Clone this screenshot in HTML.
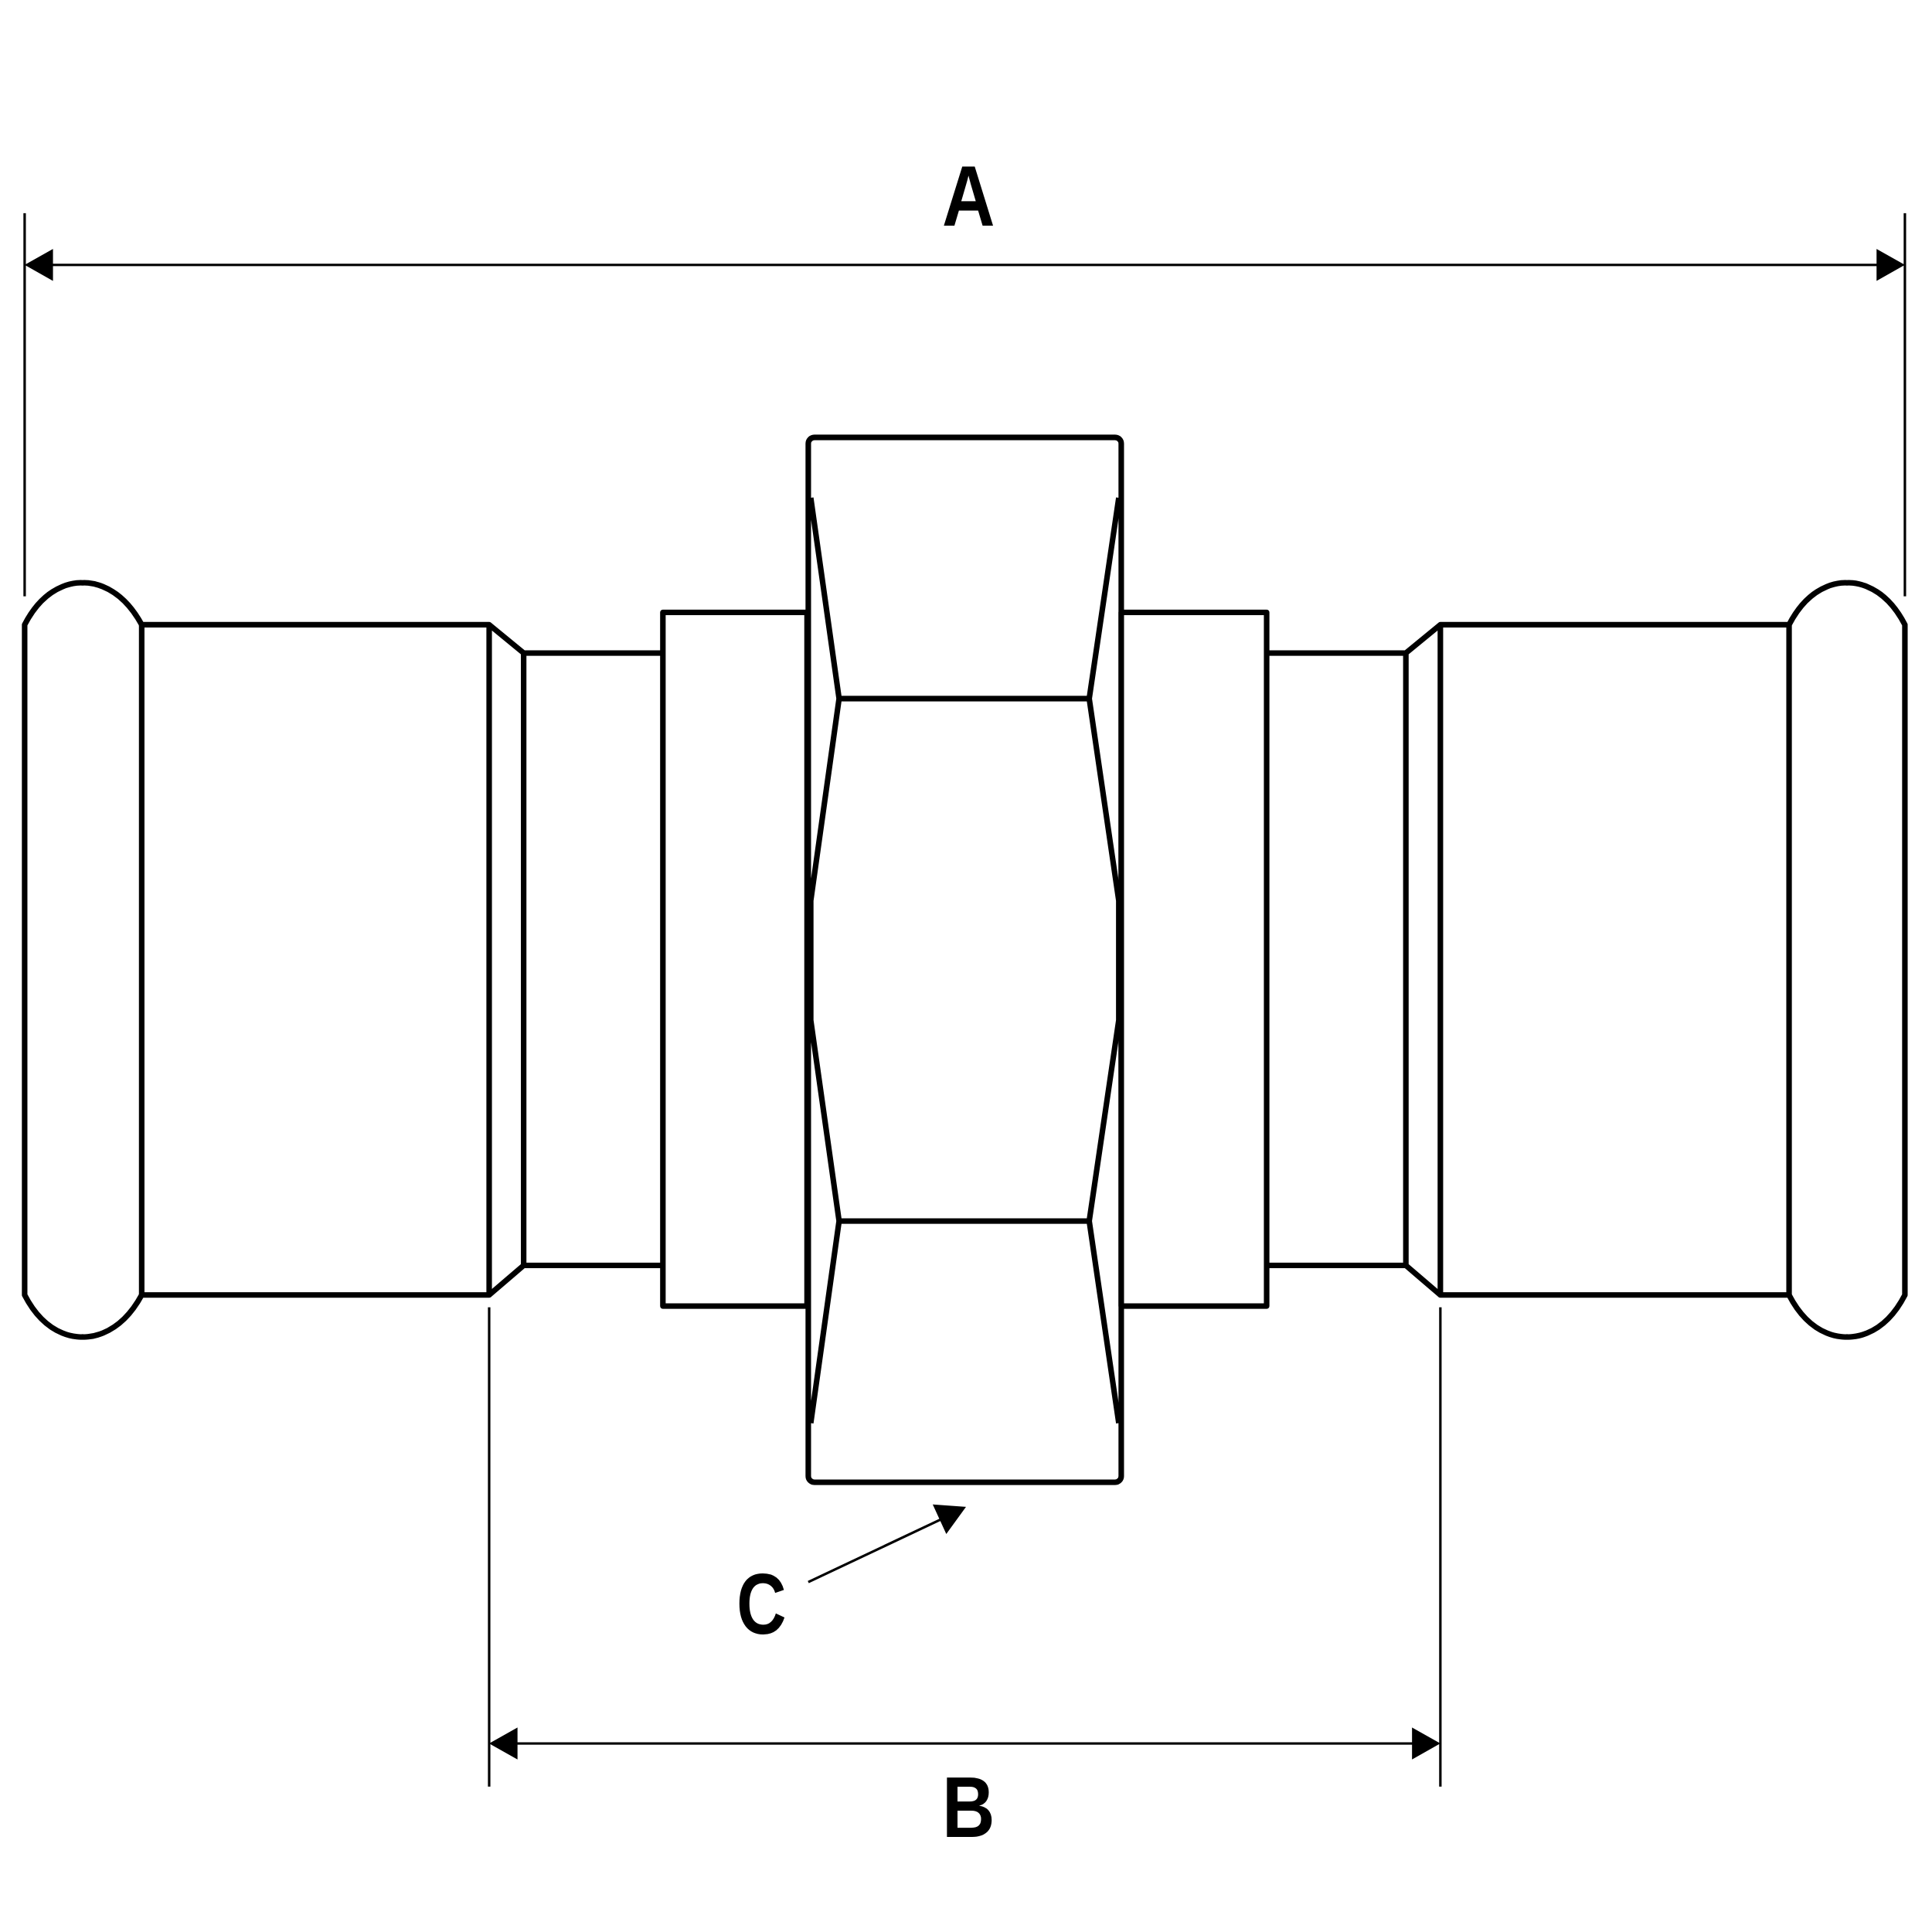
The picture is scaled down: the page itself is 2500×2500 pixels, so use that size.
<!DOCTYPE html>
<html><head><meta charset="utf-8"><style>
html,body{margin:0;padding:0;background:#fff;}
svg{display:block;}
text{font-family:"Liberation Sans",sans-serif;font-weight:bold;fill:#000;}
</style></head><body>
<svg width="2500" height="2500" viewBox="0 0 1568 1568" xmlns="http://www.w3.org/2000/svg">
<g fill="none" stroke="#000" stroke-width="2" stroke-linecap="butt">
  <line x1="20" y1="173" x2="20" y2="484"/>
  <line x1="1546" y1="173" x2="1546" y2="484"/>
  <line x1="30" y1="215" x2="1536" y2="215"/>
  <line x1="397" y1="1061" x2="397" y2="1450"/>
  <line x1="1169" y1="1061" x2="1169" y2="1450"/>
  <line x1="407" y1="1415" x2="1159" y2="1415"/>
  <line x1="656" y1="1284" x2="766" y2="1232"/>
</g>
<g fill="#000" stroke="none">
  <polygon points="20,215 43,202 43,228"/>
  <polygon points="1546,215 1523,202 1523,228"/>
  <polygon points="397,1415 420,1402 420,1428"/>
  <polygon points="1169,1415 1146,1402 1146,1428"/>
  <polygon points="784,1223 757,1221 768,1245"/>
</g>
<g fill="none" stroke="#000" stroke-width="4.5" stroke-linejoin="round">
  <path d="M115,507 C95,470 67,473 67,473 C67,473 39,470 20,507 L20,1051 C39,1088 67,1085 67,1085 C67,1085 95,1088 115,1051"/>
  <rect x="115" y="507" width="282" height="544"/>
  <path d="M397,507 L425,530 L425,1027 L397,1051"/>
  <path d="M425,530 L538,530 M425,1027 L538,1027"/>
  <rect x="538" y="497" width="117" height="563"/>
  <rect x="656" y="355" width="254" height="848" rx="5"/>
  <path d="M658,404 L681,567 L658,731 L658,828 L681,991 L658,1155"/>
  <path d="M908,404 L884,567 L908,731 L908,828 L884,991 L908,1155"/>
  <path d="M681,567 L884,567 M681,991 L884,991"/>
  <rect x="910" y="497" width="118" height="563"/>
  <path d="M1028,530 L1141,530 M1028,1027 L1141,1027"/>
  <path d="M1169,507 L1141,530 L1141,1027 L1169,1051"/>
  <rect x="1169" y="507" width="283" height="544"/>
  <path d="M1452,507 C1471,470 1499,473 1499,473 C1499,473 1527,470 1546,507 L1546,1051 C1527,1088 1499,1085 1499,1085 C1499,1085 1471,1088 1452,1051"/>
</g>
<text transform="translate(786,183) scale(0.85,1)" font-size="70" text-anchor="middle">A</text>
<text transform="translate(786,1491) scale(0.85,1)" font-size="70" text-anchor="middle">B</text>
<text transform="translate(618,1326) scale(0.8,1)" font-size="70" text-anchor="middle">C</text>
</svg>
</body></html>
